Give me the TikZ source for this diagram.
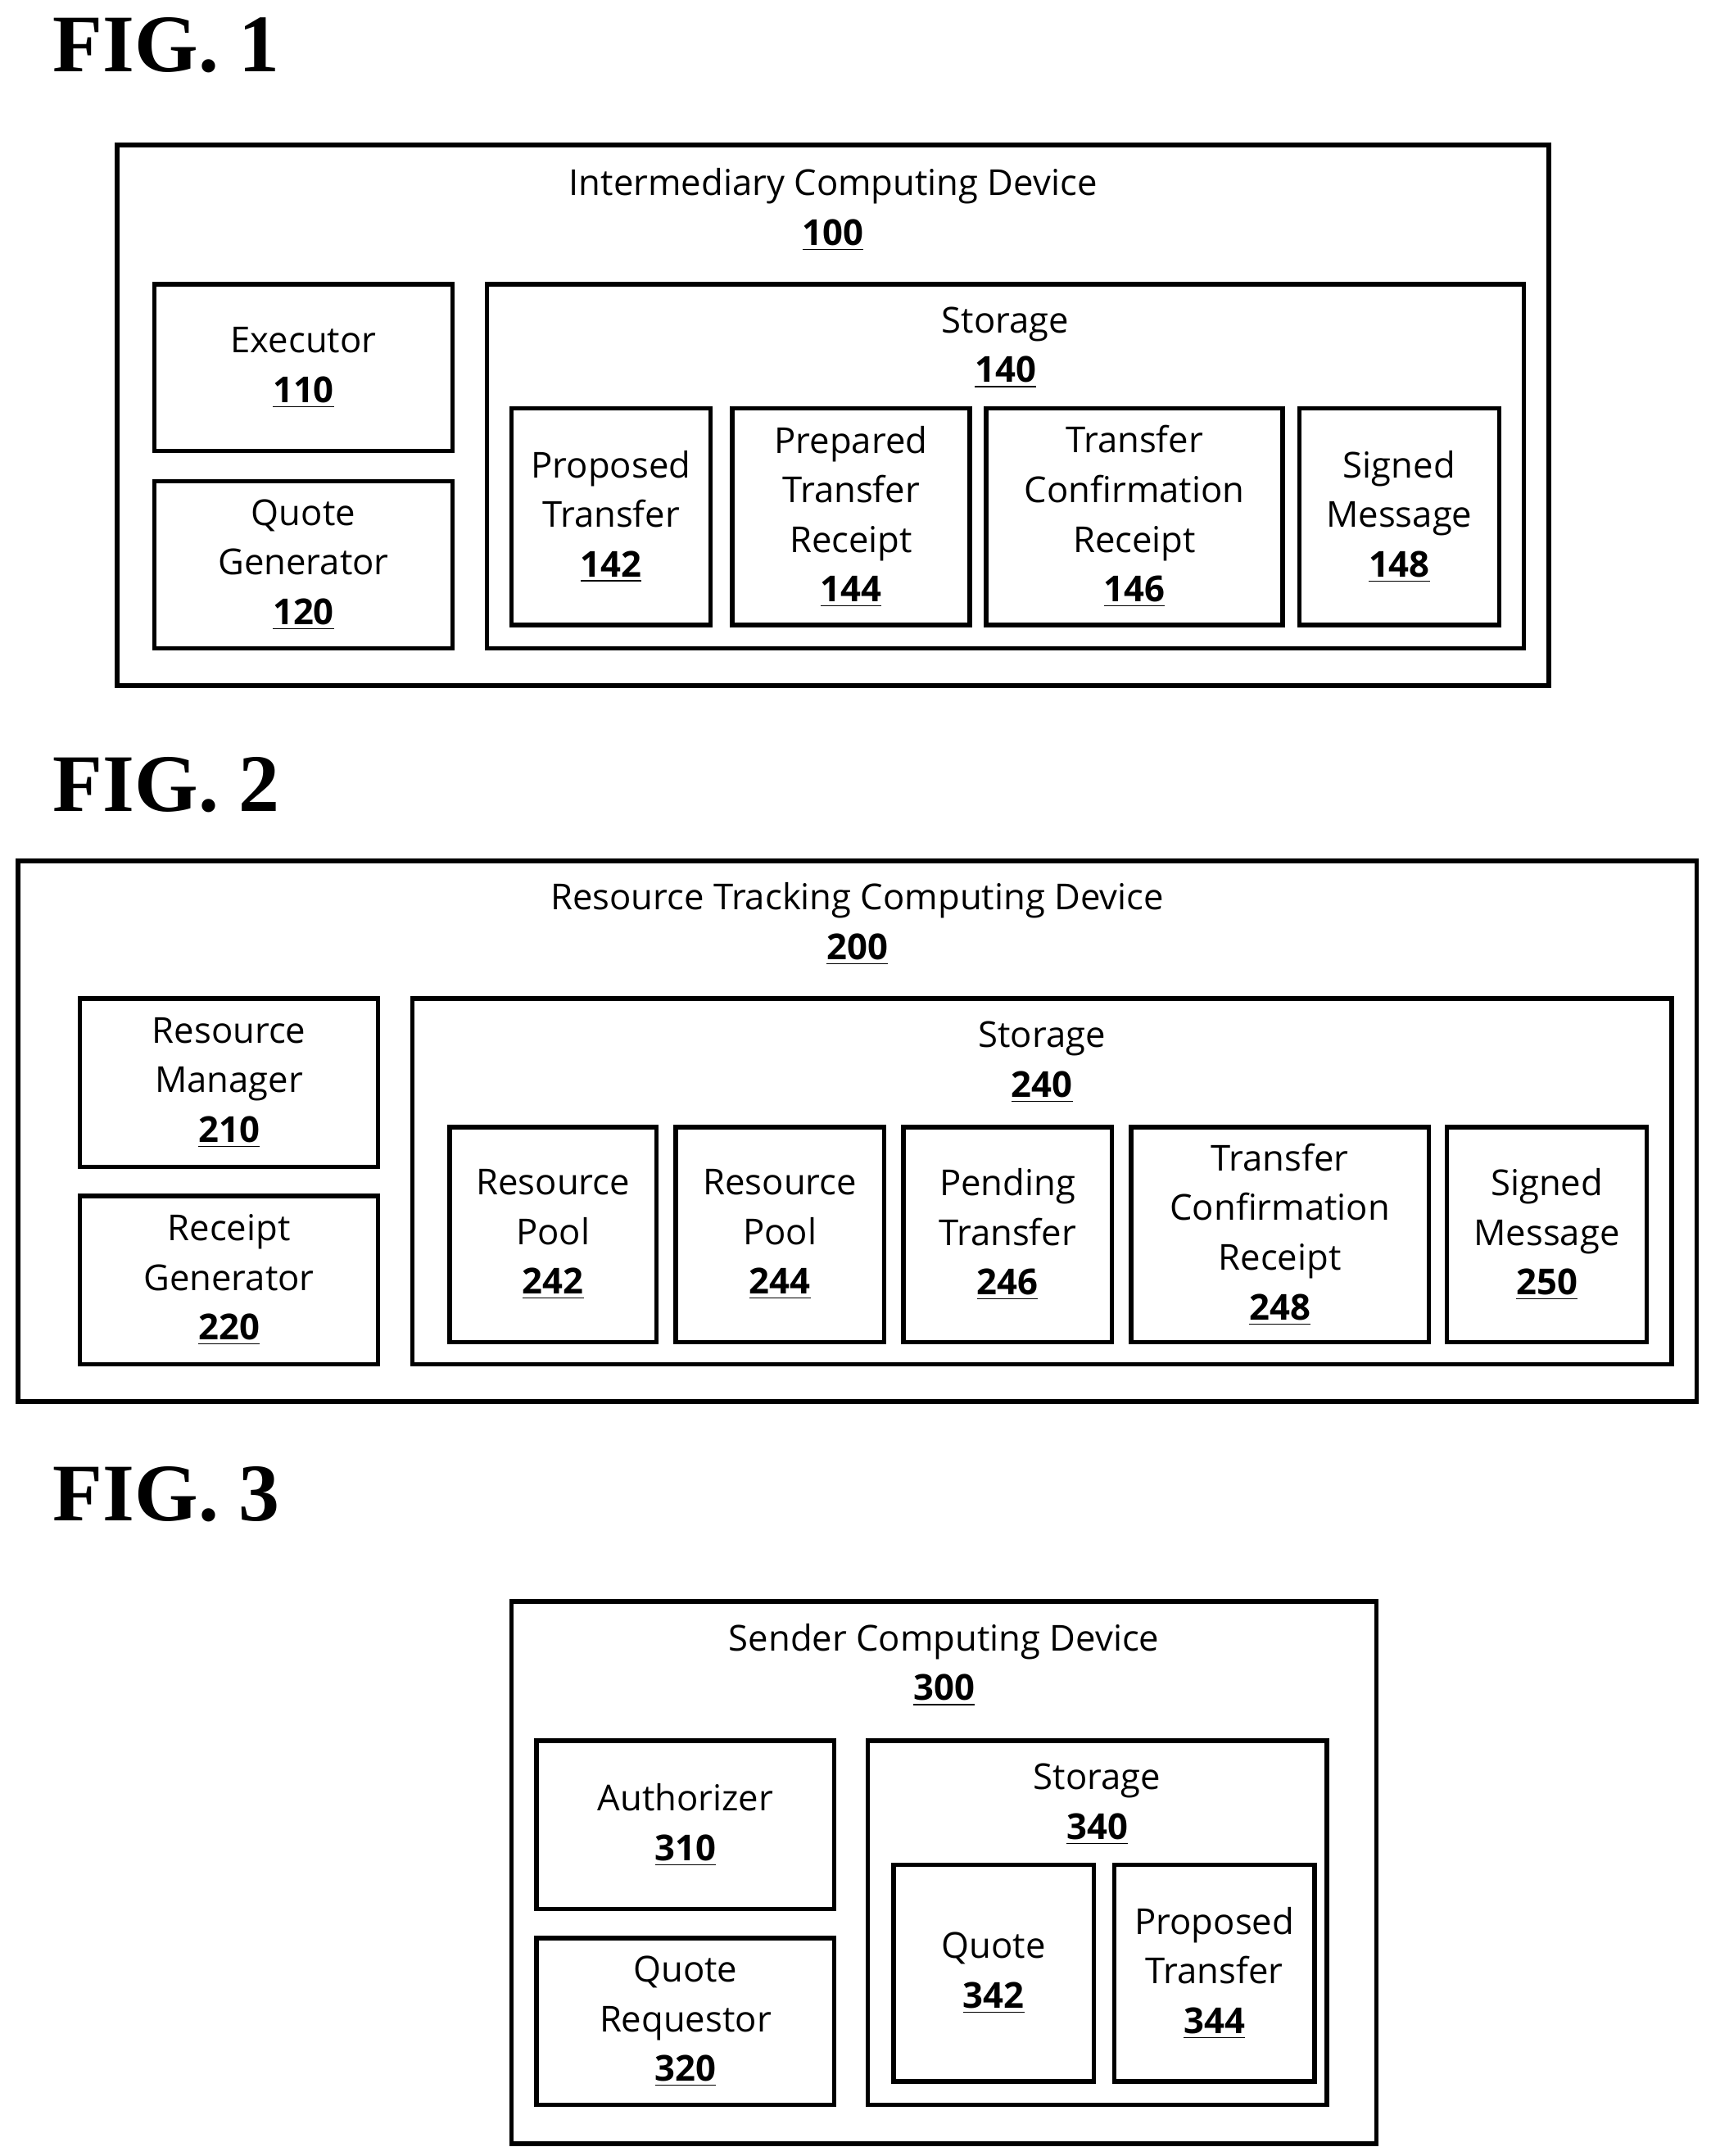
\documentclass[tikz,border=0pt]{standalone}
\usepackage{fontspec}
\setmainfont{Open Sans}
\newfontfamily\figfont{Liberation Serif}
\begin{document}
\begin{tikzpicture}[x=0.498pt,y=-0.498pt,
  box/.style={draw=black,line width=1.6pt},
  txt/.style={align=center,inner sep=0pt,font=\fontsize{12.9}{17.9}\selectfont},
  fig/.style={anchor=west,inner sep=0pt,font=\figfont\bfseries\fontsize{29.5}{34}\selectfont}]
\useasboundingbox (0,0) rectangle (1240,1563);
\newcommand\bx[6]{\draw[box] (#2,#3) rectangle (#4,#5); \node[txt] (#1) at ({(#2+#4)/2},{(#3+#5)/2}) {#6};}
\newcommand\ob[7]{\draw[box] (#2,#3) rectangle (#4,#5); \node[txt] (#1) at ({(#2+#4)/2},#6) {#7};}
\newcommand\n[1]{\underline{\textbf{#1}}}
% FIG 1
\node[fig] (f1) at (38,33) {FIG. 1};
\ob{d100}{85}{105}{1123}{497}{152}{Intermediary Computing Device\\\n{100}}
\bx{d110}{112}{206}{328}{327}{Executor\\\n{110}}
\bx{d120}{112}{349}{328}{470}{Quote\\Generator\\\n{120}}
\ob{d140}{353}{206}{1105}{470}{252}{Storage\\\n{140}}
\bx{d142}{371}{296}{515}{453}{Proposed\\Transfer\\\n{142}}
\bx{d144}{531}{296}{703}{453}{Prepared\\Transfer\\Receipt\\\n{144}}
\bx{d146}{715}{296}{930}{453}{Transfer\\Confirmation\\Receipt\\\n{146}}
\bx{d148}{942}{296}{1087}{453}{Signed\\Message\\\n{148}}
% FIG 2
\node[fig] (f2) at (38,569) {FIG. 2};
\ob{d200}{13}{624}{1230}{1016}{670}{Resource Tracking Computing Device\\\n{200}}
\bx{d210}{58}{724}{274}{846}{Resource\\Manager\\\n{210}}
\bx{d220}{58}{867}{274}{989}{Receipt\\Generator\\\n{220}}
\ob{d240}{299}{724}{1212}{989}{770}{Storage\\\n{240}}
\bx{d242}{326}{817}{476}{973}{Resource\\Pool\\\n{242}}
\bx{d244}{490}{817}{641}{973}{Resource\\Pool\\\n{244}}
\bx{d246}{655}{817}{806}{973}{Pending\\Transfer\\\n{246}}
\bx{d248}{820}{817}{1036}{973}{Transfer\\Confirmation\\Receipt\\\n{248}}
\bx{d250}{1049}{817}{1194}{973}{Signed\\Message\\\n{250}}
% FIG 3
\node[fig] (f3) at (38,1083) {FIG. 3};
\ob{d300}{371}{1161}{998}{1554}{1207}{Sender Computing Device\\\n{300}}
\bx{d310}{389}{1262}{605}{1384}{Authorizer\\\n{310}}
\bx{d320}{389}{1405}{605}{1526}{Quote\\Requestor\\\n{320}}
\ob{d340}{629}{1262}{962}{1526}{1308}{Storage\\\n{340}}
\bx{d342}{648}{1352}{793}{1509}{Quote\\\n{342}}
\bx{d344}{808}{1352}{953}{1509}{Proposed\\Transfer\\\n{344}}
\end{tikzpicture}
\end{document}
